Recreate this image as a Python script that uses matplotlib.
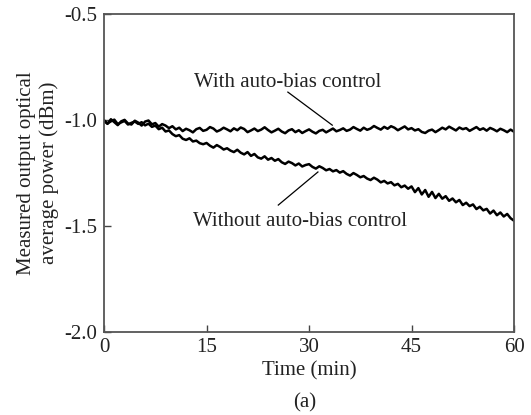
import numpy as np
import matplotlib
matplotlib.use('Agg')
import matplotlib.pyplot as plt

plt.rcParams['font.family'] = ['Liberation Serif', 'DejaVu Serif']
plt.rcParams['font.size'] = 15

# Time axis: one reading every 0.5 min
t = np.arange(0, 60.5, 0.5)

# With auto-bias control (dBm)
with_abc = [
    -1.004, -1.018, -0.996, -1.010, -1.024, -1.006, -0.999, -1.016, -1.021, -1.003,
    -1.012, -1.026, -1.007, -1.002, -1.020, -1.014, -1.031, -1.019, -1.026, -1.038,
    -1.029, -1.044, -1.036, -1.052, -1.041, -1.048, -1.058, -1.043, -1.037, -1.051,
    -1.046, -1.033, -1.040, -1.054, -1.047, -1.036, -1.044, -1.053, -1.039, -1.048,
    -1.035, -1.042, -1.057, -1.049, -1.040, -1.052, -1.045, -1.034, -1.047, -1.058,
    -1.050, -1.041, -1.054, -1.062, -1.049, -1.043, -1.057, -1.048, -1.061, -1.052,
    -1.044, -1.055, -1.063, -1.051, -1.046, -1.058, -1.049, -1.040, -1.053, -1.047,
    -1.039, -1.051, -1.045, -1.033, -1.042, -1.050, -1.036, -1.046, -1.040, -1.028,
    -1.037, -1.045, -1.032, -1.041, -1.029, -1.036, -1.048, -1.039, -1.030, -1.044,
    -1.038, -1.049, -1.043, -1.056, -1.061, -1.050, -1.045, -1.057, -1.047, -1.036,
    -1.044, -1.031, -1.040, -1.049, -1.035, -1.043, -1.038, -1.051, -1.042, -1.033,
    -1.046, -1.039, -1.050, -1.037, -1.044, -1.053, -1.041, -1.048, -1.057, -1.045,
    -1.055,
]

# Without auto-bias control (dBm)
without_abc = [
    -1.001, -1.016, -1.006, -0.998, -1.019, -1.011, -1.004, -1.021, -1.013, -1.007,
    -1.018, -1.010, -1.025, -1.017, -1.032, -1.026, -1.043, -1.036, -1.054, -1.049,
    -1.066, -1.076, -1.071, -1.088, -1.094, -1.086, -1.101, -1.097, -1.109, -1.114,
    -1.108, -1.121, -1.130, -1.118, -1.127, -1.139, -1.133, -1.144, -1.151, -1.140,
    -1.154, -1.162, -1.151, -1.169, -1.160, -1.176, -1.182, -1.171, -1.187, -1.179,
    -1.192, -1.184, -1.199, -1.207, -1.196, -1.203, -1.214, -1.205, -1.219, -1.212,
    -1.208, -1.221, -1.229, -1.218, -1.226, -1.237, -1.231, -1.242, -1.236, -1.248,
    -1.241, -1.254, -1.262, -1.250, -1.259, -1.270, -1.264, -1.276, -1.283, -1.272,
    -1.281, -1.294, -1.287, -1.299, -1.293, -1.308, -1.301, -1.317, -1.309, -1.324,
    -1.313, -1.340, -1.321, -1.351, -1.330, -1.362, -1.339, -1.368, -1.348, -1.371,
    -1.359, -1.381, -1.370, -1.388, -1.377, -1.401, -1.390, -1.406, -1.398, -1.420,
    -1.409, -1.426, -1.419, -1.441, -1.427, -1.449, -1.436, -1.455, -1.443, -1.463,
    -1.475,
]

xticks = [0, 15, 30, 45, 60]
yticks = [-2.0, -1.5, -1.0, -0.5]

fig = plt.figure(figsize=(5.31, 4.15), dpi=100)
ax = fig.add_axes([0.196, 0.2, 0.772, 0.766])

ax.plot(t, with_abc, color='black', lw=1.8)
ax.plot(t, without_abc, color='black', lw=1.8)

ax.set_xlim(0, 60)
ax.set_ylim(-2.0, -0.5)
ax.set_xticks(xticks)
ax.set_xticklabels([str(v) for v in xticks])
ax.set_yticks(yticks)
ax.set_yticklabels(['%.1f' % v for v in yticks])
ax.tick_params(direction='in', length=5, width=1, colors='#444', labelcolor='#222', pad=4)
ax.tick_params(axis='y', pad=5)
for sp in ax.spines.values():
    sp.set_color('#555')
    sp.set_linewidth(1.3)

# annotations
ax.text(26.9, -0.844, 'With auto-bias control', ha='center', va='baseline', color='#222')
ax.plot([26.9, 33.4], [-0.868, -1.024], color='black', lw=0.9)
ax.text(28.7, -1.5, 'Without auto-bias control', ha='center', va='baseline', color='#222')
ax.plot([25.5, 31.3], [-1.401, -1.245], color='black', lw=0.9)

ax.set_xlabel('Time (min)', color='#222')
ax.xaxis.set_label_coords(0.5, -0.091)
ax.set_ylabel('Measured output optical\naverage power (dBm)', color='#222', multialignment='center')
ax.yaxis.set_label_coords(-0.11, 0.5)

fig.text(0.574, 0.053, '(a)', ha='center', va='top', color='#222')

fig.savefig('out.png', dpi=100)
